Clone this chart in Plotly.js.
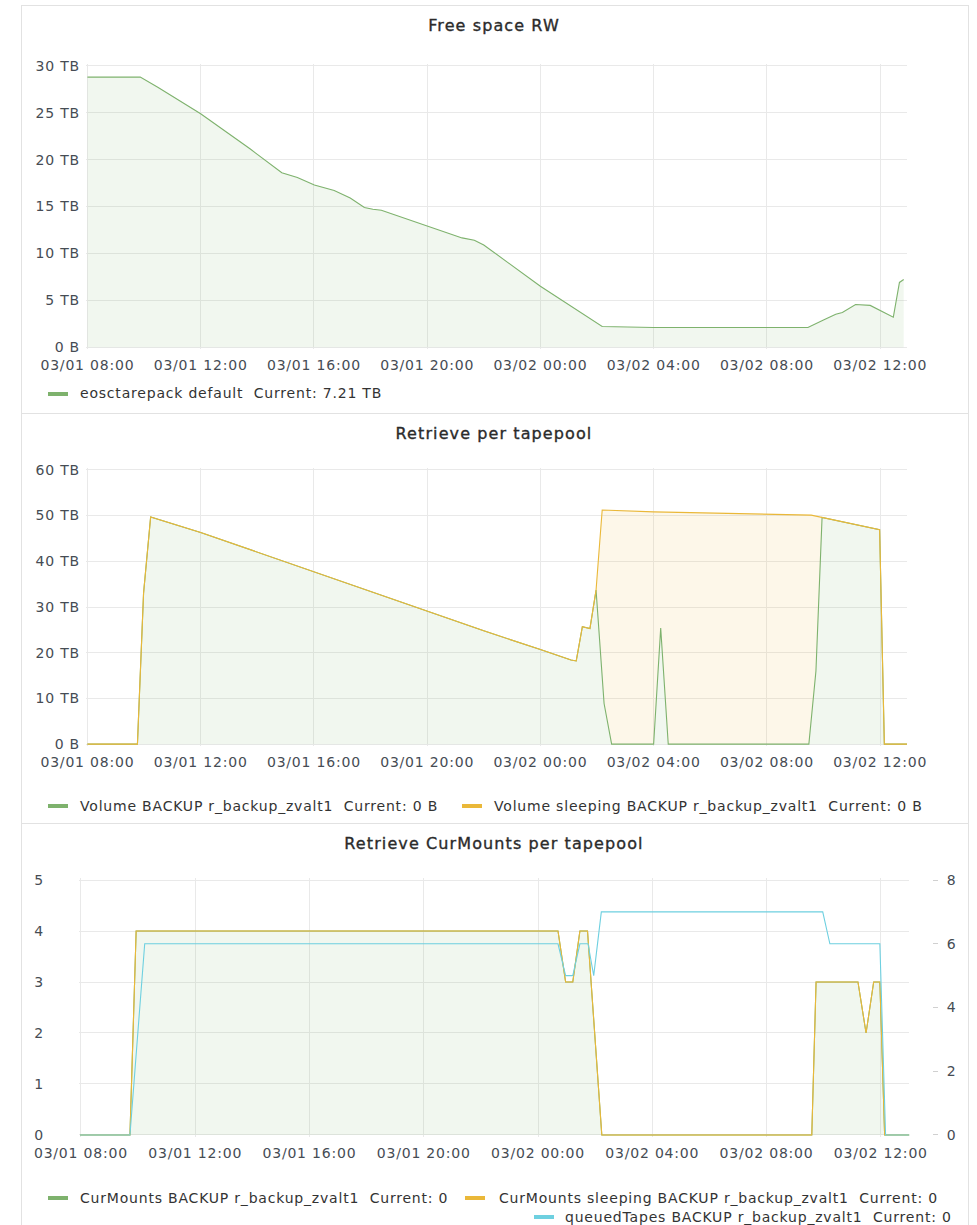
<!DOCTYPE html>
<html>
<head>
<meta charset="utf-8">
<script src="https://cdn.plot.ly/plotly-3.0.1.min.js"></script>
<style>
html,body{margin:0;padding:0;background:#fff;width:977px;height:1225px;overflow:hidden;font-family:"DejaVu Sans",sans-serif;}
.panel{position:absolute;left:21px;width:948px;border:1px solid #e2e2e2;box-sizing:border-box;background:#fff;}
.plot{position:absolute;left:22px;}
.js-plotly-plot svg text{letter-spacing:0.8px;}
.js-plotly-plot svg text.gtitle{letter-spacing:1.1px;stroke:#2b2b2b;stroke-width:0.35px;}
.leg{position:absolute;font-size:14px;line-height:16px;color:#333;white-space:nowrap;letter-spacing:0.8px;}
.sw{position:absolute;width:20px;height:4px;}
</style>
</head>
<body>
<div class="panel" style="top:5px;height:409px;"></div>
<div class="panel" style="top:413px;height:411px;"></div>
<div class="panel" style="top:823px;height:420px;"></div>
<div id="p1" class="plot" style="top:6px;width:944px;height:406px;"></div>
<div id="p2" class="plot" style="top:414px;width:944px;height:408px;"></div>
<div id="p3" class="plot" style="top:824px;width:944px;height:400px;"></div>

<div class="sw" style="left:48px;top:392px;background:#7EB26D"></div>
<div class="leg" style="left:80px;top:385px;">eosctarepack default&nbsp; Current: 7.21 TB</div>

<div class="sw" style="left:48px;top:804px;background:#7EB26D"></div>
<div class="leg" style="left:80px;top:798px;">Volume BACKUP r_backup_zvalt1&nbsp; Current: 0 B</div>
<div class="sw" style="left:462px;top:804px;background:#EAB839"></div>
<div class="leg" style="left:494px;top:798px;">Volume sleeping BACKUP r_backup_zvalt1&nbsp; Current: 0 B</div>

<div class="sw" style="left:48px;top:1196px;background:#7EB26D"></div>
<div class="leg" style="left:80px;top:1190px;">CurMounts BACKUP r_backup_zvalt1&nbsp; Current: 0</div>
<div class="sw" style="left:465px;top:1196px;background:#EAB839"></div>
<div class="leg" style="left:499px;top:1190px;">CurMounts sleeping BACKUP r_backup_zvalt1&nbsp; Current: 0</div>
<div class="sw" style="left:534px;top:1215px;background:#6ED0E0"></div>
<div class="leg" style="left:565px;top:1209px;">queuedTapes BACKUP r_backup_zvalt1&nbsp; Current: 0</div>

<script>
// ---------- Panel 1: Free space RW (TB) ----------
const freeTimes = ['2021-03-01 08:00','2021-03-01 09:52','2021-03-01 10:30','2021-03-01 12:00','2021-03-01 13:46',
  '2021-03-01 14:52','2021-03-01 15:25','2021-03-01 16:01','2021-03-01 16:43','2021-03-01 17:17','2021-03-01 17:47',
  '2021-03-01 18:05','2021-03-01 18:23','2021-03-01 19:15','2021-03-01 20:02','2021-03-01 20:35','2021-03-01 21:14',
  '2021-03-01 21:40','2021-03-01 22:00','2021-03-02 00:00','2021-03-02 02:11','2021-03-02 04:00','2021-03-02 09:27',
  '2021-03-02 10:00','2021-03-02 10:26','2021-03-02 10:40','2021-03-02 11:08','2021-03-02 11:39','2021-03-02 12:28',
  '2021-03-02 12:41','2021-03-02 12:50'];
const freeTB = [28.8,28.8,27.7,24.9,21.1,18.6,18.1,17.3,16.7,15.9,14.9,14.7,14.6,13.7,12.9,12.3,11.65,11.4,10.9,6.5,2.2,2.1,2.1,2.9,3.5,3.7,4.55,4.45,3.2,6.9,7.21];
const freeTickVals = [0,5,10,15,20,25,30];
const freeTickText = ['0 B','5 TB','10 TB','15 TB','20 TB','25 TB','30 TB'];

// ---------- Panel 2: Retrieve per tapepool (TB) ----------
const volTimes = ['2021-03-01 08:00','2021-03-01 09:46','2021-03-01 09:59','2021-03-01 10:14','2021-03-01 12:00',
  '2021-03-01 14:00','2021-03-01 16:00','2021-03-01 18:00','2021-03-01 20:00','2021-03-01 22:00','2021-03-02 00:00',
  '2021-03-02 01:05','2021-03-02 01:16','2021-03-02 01:29','2021-03-02 01:45','2021-03-02 01:58','2021-03-02 02:15',
  '2021-03-02 02:31','2021-03-02 04:00','2021-03-02 04:15','2021-03-02 04:31','2021-03-02 09:29','2021-03-02 09:44',
  '2021-03-02 09:57','2021-03-02 11:59','2021-03-02 12:09','2021-03-02 12:57'];
const volTB = [0,0,33,49.7,46.3,42.0,37.6,33.3,29.1,24.8,20.7,18.4,18.2,25.7,25.3,33.7,8.9,0,0,25.4,0,0,16,49.6,46.9,0,0];
const sleepTimes = ['2021-03-01 08:00','2021-03-01 09:46','2021-03-01 09:59','2021-03-01 10:14','2021-03-01 12:00',
  '2021-03-01 14:00','2021-03-01 16:00','2021-03-01 18:00','2021-03-01 20:00','2021-03-01 22:00','2021-03-02 00:00',
  '2021-03-02 01:05','2021-03-02 01:16','2021-03-02 01:29','2021-03-02 01:45','2021-03-02 01:58','2021-03-02 02:11',
  '2021-03-02 04:00','2021-03-02 09:34','2021-03-02 09:57','2021-03-02 11:59','2021-03-02 12:09','2021-03-02 12:57'];
const sleepTB = [0,0,33,49.7,46.3,42.0,37.6,33.3,29.1,24.8,20.7,18.4,18.2,25.7,25.3,33.7,51.2,50.8,50.1,49.6,46.9,0,0];
const volTickVals = [0,10,20,30,40,50,60];
const volTickText = ['0 B','10 TB','20 TB','30 TB','40 TB','50 TB','60 TB'];

// ---------- Panel 3: Retrieve CurMounts per tapepool ----------
const mountTimes = ['2021-03-01 07:58','2021-03-01 09:43','2021-03-01 09:56','2021-03-02 00:42','2021-03-02 00:58',
  '2021-03-02 01:13','2021-03-02 01:28','2021-03-02 01:44','2021-03-02 02:14','2021-03-02 09:35','2021-03-02 09:44',
  '2021-03-02 11:12','2021-03-02 11:29','2021-03-02 11:45','2021-03-02 11:58','2021-03-02 12:08','2021-03-02 13:00'];
const curMounts      = [0,0,4,4,3,3,4,4,0,0,3,3,2,3,3,0,0];
const curMountsSleep = [0,0,4,4,3,3,4,4,0,0,3,3,2,3,3,0,0];
const queuedTimes = ['2021-03-01 07:58','2021-03-01 09:43','2021-03-01 10:14','2021-03-02 00:42','2021-03-02 00:58',
  '2021-03-02 01:13','2021-03-02 01:28','2021-03-02 01:45','2021-03-02 01:57','2021-03-02 02:13','2021-03-02 09:58',
  '2021-03-02 10:13','2021-03-02 11:58','2021-03-02 12:10','2021-03-02 13:00'];
const queuedTapes = [0,0,6,6,5,5,6,6,5,7,7,6,6,0,0];
const leftTickVals = [0,1,2,3,4,5];
const rightTickVals = [0,2,4,6,8];

const FONT = 'DejaVu Sans';
const TICKCOL = '#464c54';
const GRID = '#e9e9e9';
const GREEN = '#7EB26D', YELLOW = '#EAB839', CYAN = '#6ED0E0';
const GREEN_FILL = 'rgba(126,178,109,0.11)', YELLOW_FILL = 'rgba(234,184,57,0.11)';
const cfg = {staticPlot:true, displayModeBar:false};

function xax(range){
  return {type:'date', range:range, tick0:'2021-03-01 00:00', dtick:4*3600*1000, tickformat:'%m/%d %H:%M',
    showgrid:true, gridcolor:GRID, gridwidth:1, zeroline:false, showline:false, ticks:'',
    ticklabelstandoff:6, tickfont:{family:FONT, size:14, color:TICKCOL}, fixedrange:true};
}
function title(text, y){
  return {text:text, x:0.5, xref:'container', xanchor:'center', y:y, yref:'container', yanchor:'middle',
    font:{family:FONT, size:16, color:'#2b2b2b'}};
}
function tr(x, y, color, fill, extra){
  return Object.assign({x:x, y:y, type:'scatter', mode:'lines', line:{color:color, width:1.1},
    fill:'tozeroy', fillcolor:fill, hoverinfo:'skip', showlegend:false}, extra||{});
}

// Panel 1
Plotly.newPlot('p1', [tr(freeTimes, freeTB, GREEN, GREEN_FILL)], {
  width:944, height:406, margin:{l:64, r:59, t:58, b:63},
  paper_bgcolor:'rgba(0,0,0,0)', plot_bgcolor:'rgba(0,0,0,0)',
  title:title('Free space RW', 1-19/406),
  xaxis:xax(['2021-03-01 07:57','2021-03-02 12:57']),
  yaxis:{range:[-0.2,30.2], tickvals:freeTickVals, ticktext:freeTickText, showgrid:true, gridcolor:GRID,
    zeroline:false, showline:false, ticks:'', ticklabelstandoff:5, tickfont:{family:FONT,size:14,color:TICKCOL}, fixedrange:true},
  showlegend:false
}, cfg);

// Panel 2 (sleeping volume fills down to the active volume line)
Plotly.newPlot('p2', [
  tr(volTimes, volTB, GREEN, GREEN_FILL),
  tr(sleepTimes, sleepTB, YELLOW, YELLOW_FILL, {fill:'tonexty'})
], {
  width:944, height:408, margin:{l:64, r:59, t:54, b:76},
  paper_bgcolor:'rgba(0,0,0,0)', plot_bgcolor:'rgba(0,0,0,0)',
  title:title('Retrieve per tapepool', 1-19/408),
  xaxis:xax(['2021-03-01 07:57','2021-03-02 12:57']),
  yaxis:{range:[-0.4,60.4], tickvals:volTickVals, ticktext:volTickText, showgrid:true, gridcolor:GRID,
    zeroline:false, showline:false, ticks:'', ticklabelstandoff:5, tickfont:{family:FONT,size:14,color:TICKCOL}, fixedrange:true},
  showlegend:false
}, cfg);

// Panel 3
const x3 = xax(['2021-03-01 07:56','2021-03-02 13:00']);
x3.domain = [0, 0.9447];
Plotly.newPlot('p3', [
  tr(mountTimes, curMounts, GREEN, GREEN_FILL),
  tr(mountTimes, curMountsSleep, YELLOW, YELLOW_FILL, {fill:'tonexty'}),
  tr(queuedTimes, queuedTapes, CYAN, 'rgba(0,0,0,0)', {fill:'none', yaxis:'y2'})
], {
  width:944, height:400, margin:{l:57, r:8, t:54, b:87},
  paper_bgcolor:'rgba(0,0,0,0)', plot_bgcolor:'rgba(0,0,0,0)',
  title:title('Retrieve CurMounts per tapepool', 1-19/400),
  xaxis:x3,
  yaxis:{range:[-0.04,5.04], tickvals:leftTickVals, showgrid:true, gridcolor:GRID,
    zeroline:false, showline:false, ticks:'', ticklabelstandoff:34, tickfont:{family:FONT,size:14,color:TICKCOL}, fixedrange:true},
  yaxis2:{range:[-0.064,8.064], tickvals:rightTickVals, overlaying:'y', side:'right', anchor:'free', position:0.9704,
    showgrid:false, zeroline:false, showline:false, ticks:'outside', ticklen:5, tickcolor:'#d0d0d0', tickwidth:1,
    ticklabelstandoff:6, tickfont:{family:FONT,size:14,color:TICKCOL}, fixedrange:true},
  showlegend:false
}, cfg);
</script>
</body>
</html>
